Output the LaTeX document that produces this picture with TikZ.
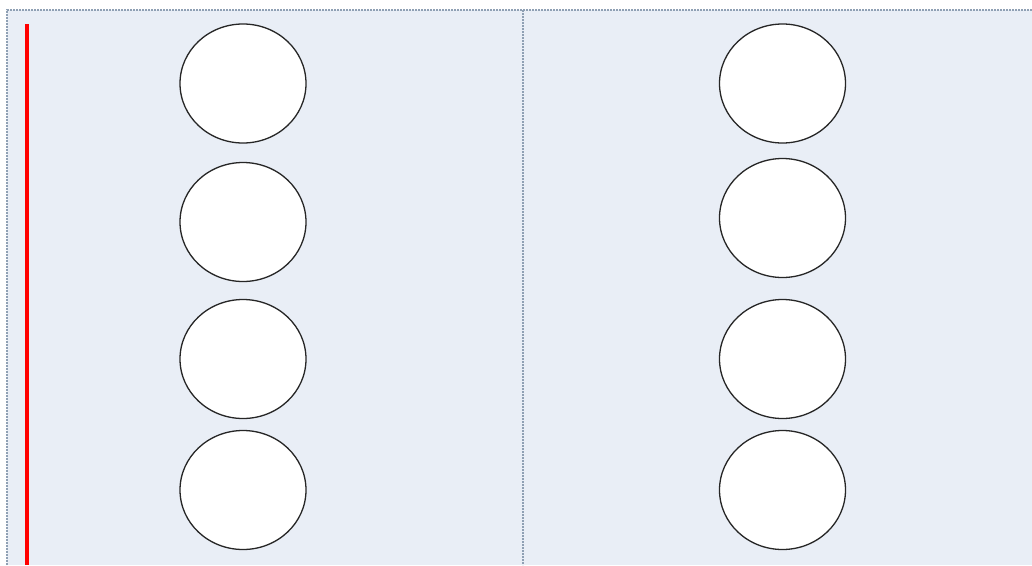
\documentclass[tikz,border=0pt]{standalone}
\usetikzlibrary{shapes.geometric}
\begin{document}
\begin{tikzpicture}[x=1pt,y=-1pt,
  panel/.style={fill=bgblue},
  divider/.style={draw=bordergrey, line width=1.3pt, dash pattern=on 2pt off 1pt},
  ball/.style={ellipse, draw=black!85, fill=white, line width=1.3pt, minimum width=126pt, minimum height=119pt, inner sep=0pt},
  redbar/.style={draw=red, line width=3.5pt}]
\definecolor{bgblue}{HTML}{E9EEF6}
\definecolor{bordergrey}{HTML}{8FA0B4}
\useasboundingbox (0,0) rectangle (1032,565);
\fill[white] (0,0) rectangle (1032,565);
\fill[panel] (7,10) rectangle (1032,565);
\draw[divider] (7,565) -- (7,10) -- (1032,10);
\draw[divider] (523,10) -- (523,565);
\coordinate (rtop) at (26.8,24);
\coordinate (rbot) at (26.8,565);
\draw[redbar] (rtop) -- (rbot);
\node[ball] (l1) at (243,83.5) {};
\node[ball] (l2) at (243,222) {};
\node[ball] (l3) at (243,359) {};
\node[ball] (l4) at (243,490) {};
\node[ball] (r1) at (782.5,83.5) {};
\node[ball] (r2) at (782.5,218) {};
\node[ball] (r3) at (782.5,359) {};
\node[ball] (r4) at (782.5,490) {};
\end{tikzpicture}
\end{document}
